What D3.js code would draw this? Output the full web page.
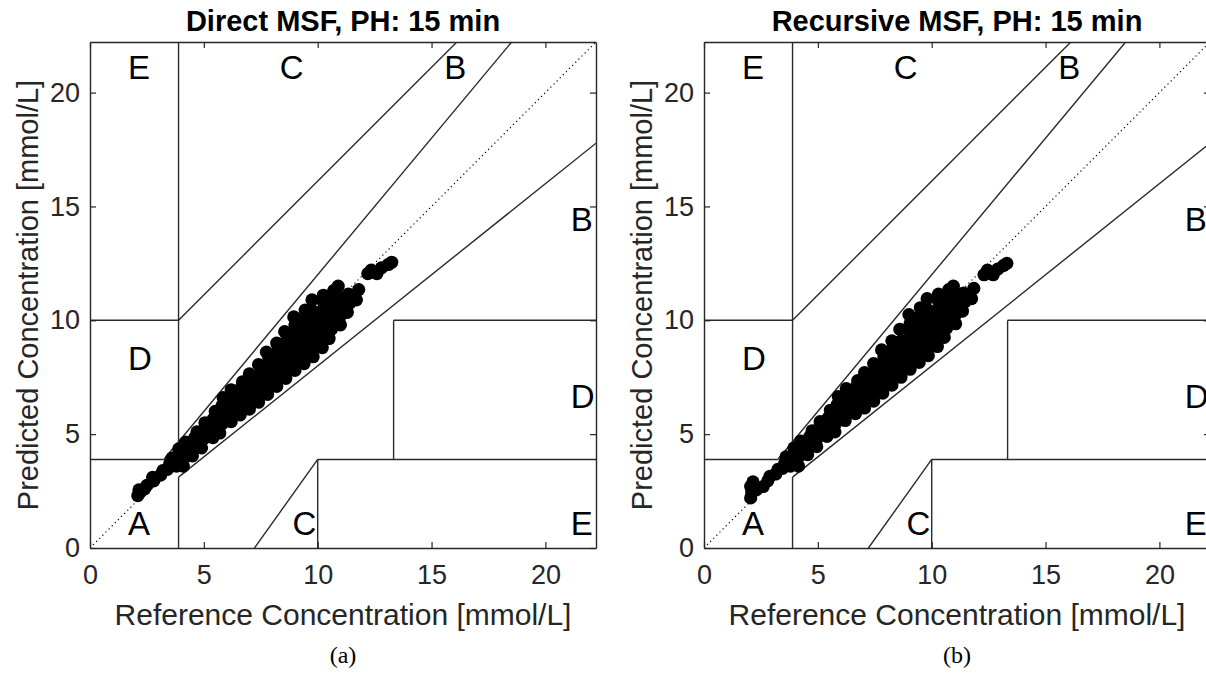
<!DOCTYPE html>
<html>
<head>
<meta charset="utf-8">
<script src="https://cdn.jsdelivr.net/npm/d3@7"></script>
<style>
  body { margin: 0; background: #fff; }
  svg { display: block; font-family: "Liberation Sans", Arial, sans-serif; }
</style>
</head>
<body>
<div class="chart"></div>
<script>
// SVG area
var svgWidth = 1206;
var svgHeight = 681;

// Axis range: Clarke grid goes to 400 mg/dL
var mgPerMmol = 18;
var axisMax = 400 / mgPerMmol;
var tickValues = [0, 5, 10, 15, 20];

var panelTitles = ["Direct MSF, PH: 15 min", "Recursive MSF, PH: 15 min"];
var panelCaptions = ["(a)", "(b)"];
var xLabel = "Reference Concentration [mmol/L]";
var yLabel = "Predicted Concentration [mmol/L]";

// Clarke error grid boundaries in mg/dL: [x1, y1, x2, y2]
var zoneLines = [
  [0, 70, 175 / 3, 70],
  [175 / 3, 70, 400 / 1.2, 400],
  [70, 84, 70, 400],
  [0, 180, 70, 180],
  [70, 180, 290, 400],
  [70, 0, 70, 56],
  [70, 56, 400, 320],
  [180, 0, 180, 70],
  [180, 70, 400, 70],
  [240, 70, 240, 180],
  [240, 180, 400, 180],
  [130, 0, 180, 70]
];

// zone letters in mg/dL: [label, x, y]
var zoneLabels = [
  ["A", 30, 20], ["D", 30, 150], ["E", 30, 380], ["C", 150, 380],
  ["C", 160, 20], ["E", 380, 20], ["D", 380, 120], ["B", 380, 260],
  ["B", 280, 380]
];

// [reference, predicted] in mmol/L
var directPoints = [
  [2.1, 2.3], [2.15, 2.55], [2.2, 2.45], [2.4, 2.6], [2.5, 2.75],
  [2.8, 2.95], [2.75, 3.1], [3.1, 3.2], [3.2, 3.4],
  [3.4, 3.45], [3.5, 3.7], [3.6, 3.95],
  [3.8, 3.6], [3.85, 4.0], [3.9, 4.35],
  [4.1, 3.6], [4.2, 4.0], [4.25, 4.4], [4.2, 4.65],
  [4.5, 4.05], [4.6, 4.45], [4.6, 4.85], [4.7, 5.1],
  [4.9, 4.4], [5.0, 4.8], [5.0, 5.2], [5.05, 5.5],
  [5.4, 4.85], [5.35, 5.25], [5.4, 5.65], [5.5, 6.0],
  [5.7, 5.05], [5.8, 5.45], [5.8, 5.85], [5.8, 6.25], [5.85, 6.6],
  [6.2, 5.55], [6.2, 5.95], [6.15, 6.35], [6.25, 6.75], [6.2, 6.95],
  [6.6, 5.85], [6.6, 6.25], [6.6, 6.65], [6.65, 7.05], [6.7, 7.3],
  [7.0, 6.1], [7.0, 6.5], [7.0, 6.9], [7.05, 7.3], [7.0, 7.65],
  [7.4, 6.4], [7.4, 6.8], [7.4, 7.2], [7.45, 7.6], [7.4, 8.05],
  [7.8, 6.75], [7.8, 7.15], [7.8, 7.55], [7.8, 7.95], [7.85, 8.35], [7.75, 8.6],
  [8.2, 7.1], [8.2, 7.5], [8.2, 7.9], [8.2, 8.3], [8.25, 8.7], [8.2, 9.0],
  [8.6, 7.45], [8.6, 7.85], [8.6, 8.25], [8.6, 8.65], [8.6, 9.05], [8.55, 9.5],
  [9.0, 7.8], [9.0, 8.2], [9.0, 8.6], [9.0, 9.0], [9.0, 9.4], [9.0, 9.8], [8.95, 10.15],
  [9.4, 8.1], [9.4, 8.5], [9.4, 8.9], [9.4, 9.3], [9.4, 9.7], [9.4, 10.1], [9.45, 10.45],
  [9.8, 8.4], [9.8, 8.8], [9.8, 9.2], [9.8, 9.6], [9.8, 10.0], [9.8, 10.4], [9.75, 10.9],
  [10.2, 8.8], [10.2, 9.2], [10.2, 9.6], [10.2, 10.0], [10.2, 10.4], [10.25, 10.8], [10.25, 11.1],
  [10.5, 9.2], [10.6, 9.6], [10.6, 10.0], [10.6, 10.4], [10.6, 10.8], [10.7, 11.3],
  [11.0, 9.8], [11.0, 10.2], [11.0, 10.6], [11.0, 11.0], [10.9, 11.5],
  [11.3, 10.35], [11.4, 10.75], [11.35, 11.15],
  [11.7, 10.9], [11.8, 11.35],
  [12.2, 12.05], [12.35, 12.2], [12.6, 12.05], [12.8, 12.3], [13.1, 12.45], [13.25, 12.55]
];

// [reference, predicted] in mmol/L
var recursivePoints = [
  [2.05, 2.2], [2.1, 2.45], [2.05, 2.7], [2.15, 2.9], [2.3, 2.55], [2.6, 2.7],
  [2.8, 2.95], [2.9, 3.15], [3.15, 3.25], [3.25, 3.45],
  [3.45, 3.5], [3.55, 3.75], [3.6, 4.0],
  [3.8, 3.6], [3.9, 4.05], [3.95, 4.4],
  [4.15, 3.6], [4.2, 4.05], [4.3, 4.45], [4.25, 4.7],
  [4.55, 4.1], [4.6, 4.5], [4.65, 4.9], [4.75, 5.15],
  [4.95, 4.45], [5.0, 4.85], [5.05, 5.25], [5.1, 5.55],
  [5.4, 4.9], [5.4, 5.3], [5.45, 5.7], [5.55, 6.05],
  [5.75, 5.1], [5.8, 5.5], [5.85, 5.9], [5.85, 6.3], [5.9, 6.65],
  [6.2, 5.6], [6.25, 6.0], [6.2, 6.4], [6.3, 6.8], [6.25, 7.0],
  [6.65, 5.9], [6.65, 6.3], [6.6, 6.7], [6.7, 7.1], [6.75, 7.35],
  [7.05, 6.15], [7.05, 6.55], [7.0, 6.95], [7.1, 7.35], [7.05, 7.7],
  [7.45, 6.45], [7.45, 6.85], [7.4, 7.25], [7.5, 7.65], [7.45, 8.1],
  [7.85, 6.8], [7.85, 7.2], [7.85, 7.6], [7.85, 8.0], [7.9, 8.4], [7.8, 8.7],
  [8.25, 7.15], [8.25, 7.55], [8.25, 7.95], [8.25, 8.35], [8.3, 8.75], [8.25, 9.1],
  [8.65, 7.5], [8.65, 7.9], [8.65, 8.3], [8.65, 8.7], [8.65, 9.1], [8.6, 9.6],
  [9.05, 7.85], [9.05, 8.25], [9.05, 8.65], [9.05, 9.05], [9.05, 9.45], [9.05, 9.85], [9.0, 10.25],
  [9.45, 8.15], [9.45, 8.55], [9.45, 8.95], [9.45, 9.35], [9.45, 9.75], [9.45, 10.15], [9.5, 10.55],
  [9.85, 8.45], [9.85, 8.85], [9.85, 9.25], [9.85, 9.65], [9.85, 10.05], [9.85, 10.45], [9.8, 10.95],
  [10.25, 8.85], [10.25, 9.25], [10.25, 9.65], [10.25, 10.05], [10.25, 10.45], [10.3, 10.85], [10.3, 11.15],
  [10.55, 9.25], [10.65, 9.65], [10.65, 10.05], [10.65, 10.45], [10.65, 10.85], [10.75, 11.35],
  [11.05, 9.85], [11.05, 10.25], [11.05, 10.65], [11.05, 11.05], [10.95, 11.5],
  [11.35, 10.4], [11.45, 10.8], [11.4, 11.2],
  [11.75, 10.95], [11.85, 11.4],
  [12.3, 12.0], [12.45, 12.2], [12.7, 12.0], [12.9, 12.25], [13.15, 12.4], [13.3, 12.5]
];

var panelPoints = [directPoints, recursivePoints];

// Layout of one panel
var plotSize = 506;
var panelOrigins = [[90, 42], [704, 42]];
var axisColor = "#262626";

var svg = d3.select(".chart")
  .append("svg")
  .attr("width", svgWidth)
  .attr("height", svgHeight);

svg.append("rect")
  .attr("width", svgWidth)
  .attr("height", svgHeight)
  .attr("fill", "#fff");

var xScale = d3.scaleLinear().domain([0, axisMax]).range([0, plotSize]);
var yScale = d3.scaleLinear().domain([0, axisMax]).range([plotSize, 0]);

panelTitles.forEach(function(title, i) {
  var g = svg.append("g")
    .attr("transform", `translate(${panelOrigins[i][0]}, ${panelOrigins[i][1]})`);

  var clipId = "plotClip" + i;
  g.append("clipPath")
    .attr("id", clipId)
    .append("rect")
    .attr("width", plotSize)
    .attr("height", plotSize);

  var plot = g.append("g").attr("clip-path", `url(#${clipId})`);

  // dotted identity line
  plot.append("line")
    .attr("x1", xScale(0)).attr("y1", yScale(0))
    .attr("x2", xScale(axisMax)).attr("y2", yScale(axisMax))
    .attr("stroke", "#000")
    .attr("stroke-width", 1.2)
    .attr("stroke-dasharray", "1.2,3.2");

  // zone boundaries
  plot.selectAll(".zone")
    .data(zoneLines)
    .enter()
    .append("line")
    .attr("class", "zone")
    .attr("x1", d => xScale(d[0] / mgPerMmol))
    .attr("y1", d => yScale(d[1] / mgPerMmol))
    .attr("x2", d => xScale(d[2] / mgPerMmol))
    .attr("y2", d => yScale(d[3] / mgPerMmol))
    .attr("stroke", "#2a2a2a")
    .attr("stroke-width", 1.4);

  // zone letters
  plot.selectAll(".zoneLabel")
    .data(zoneLabels)
    .enter()
    .append("text")
    .attr("class", "zoneLabel")
    .attr("x", d => xScale(d[1] / mgPerMmol))
    .attr("y", d => yScale(d[2] / mgPerMmol))
    .attr("dy", "0.36em")
    .attr("font-size", 33)
    .attr("fill", "#000")
    .text(d => d[0]);

  // scatter points
  g.selectAll(".dot")
    .data(panelPoints[i])
    .enter()
    .append("circle")
    .attr("class", "dot")
    .attr("cx", d => xScale(d[0]))
    .attr("cy", d => yScale(d[1]))
    .attr("r", 6.6)
    .attr("fill", "#000");

  // axes with inward ticks on all four sides
  var bottomAxis = d3.axisBottom(xScale).tickValues(tickValues).tickSize(-6).tickSizeOuter(0).tickPadding(17);
  var leftAxis = d3.axisLeft(yScale).tickValues(tickValues).tickSize(-6).tickSizeOuter(0).tickPadding(10);
  var topAxis = d3.axisTop(xScale).tickValues(tickValues).tickSize(-6).tickSizeOuter(0).tickFormat("");
  var rightAxis = d3.axisRight(yScale).tickValues(tickValues).tickSize(-6).tickSizeOuter(0).tickFormat("");

  var axes = [
    g.append("g").attr("transform", `translate(0, ${plotSize})`).call(bottomAxis),
    g.append("g").call(leftAxis),
    g.append("g").call(topAxis),
    g.append("g").attr("transform", `translate(${plotSize}, 0)`).call(rightAxis)
  ];
  axes.forEach(function(a) {
    a.select(".domain").attr("stroke", axisColor).attr("stroke-width", 1.4);
    a.selectAll(".tick line").attr("stroke", axisColor).attr("stroke-width", 1.2);
    a.selectAll(".tick text")
      .attr("fill", axisColor)
      .attr("font-size", 27)
      .attr("font-family", "Liberation Sans, Arial, sans-serif");
  });

  // title
  g.append("text")
    .attr("x", plotSize / 2)
    .attr("y", -11)
    .attr("text-anchor", "middle")
    .attr("font-size", 29)
    .attr("font-weight", "bold")
    .attr("fill", "#000")
    .text(title);

  // axis labels
  g.append("text")
    .attr("x", plotSize / 2)
    .attr("y", 583)
    .attr("text-anchor", "middle")
    .attr("font-size", 30)
    .attr("fill", axisColor)
    .text(xLabel);

  g.append("text")
    .attr("transform", "rotate(-90)")
    .attr("x", -plotSize / 2)
    .attr("y", -52)
    .attr("text-anchor", "middle")
    .attr("font-size", 29)
    .attr("fill", axisColor)
    .text(yLabel);

  // caption under the panel
  g.append("text")
    .attr("x", plotSize / 2)
    .attr("y", 621)
    .attr("text-anchor", "middle")
    .attr("font-size", 24)
    .attr("font-family", "Liberation Serif, serif")
    .attr("fill", "#000")
    .text(panelCaptions[i]);
});
</script>
</body>
</html>
